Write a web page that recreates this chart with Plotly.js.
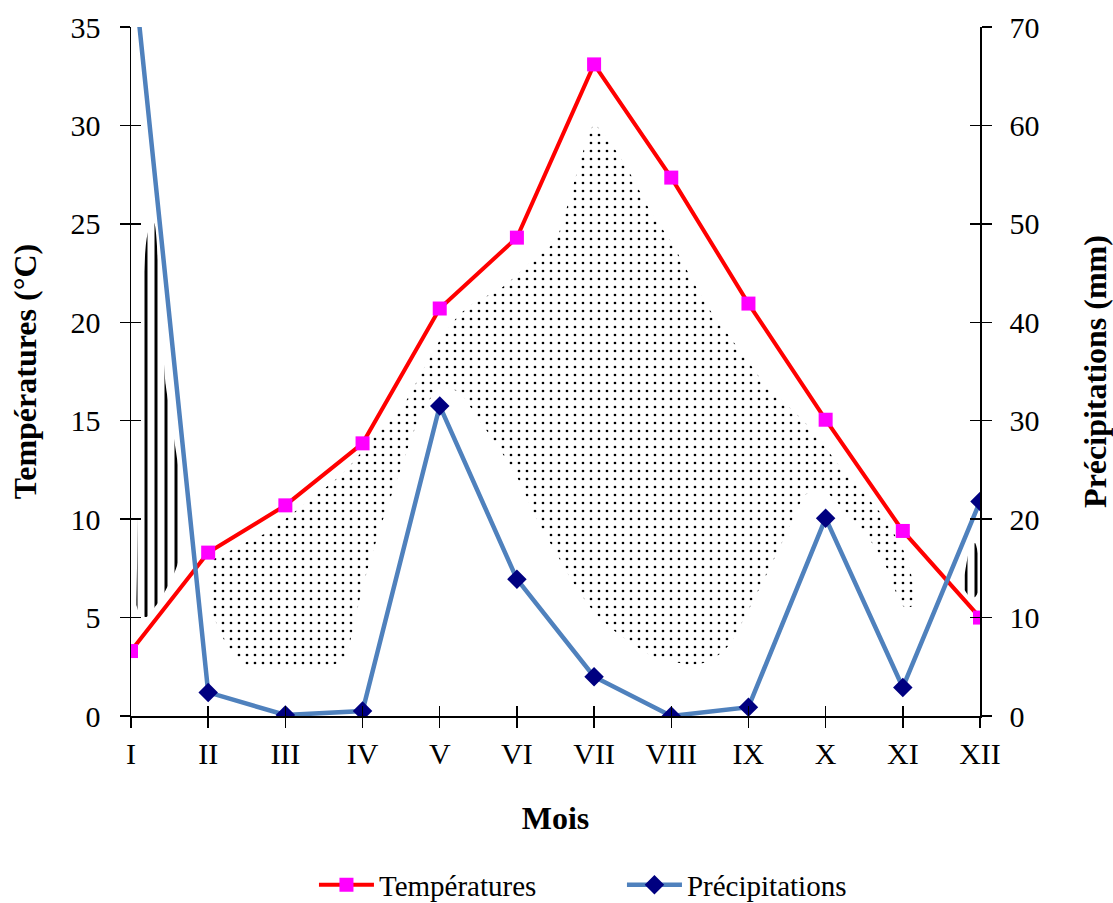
<!DOCTYPE html>
<html><head><meta charset="utf-8">
<script src="https://cdn.plot.ly/plotly-3.0.1.min.js"></script>
<style>html,body{margin:0;padding:0;background:#fff}#chart{width:1113px;height:903px}</style>
</head><body><div id="chart"></div>
<script>
// Month labels
const months = ['I','II','III','IV','V','VI','VII','VIII','IX','X','XI','XII'];
// Mean monthly temperature (°C)
const temperatures = [3.3, 8.3, 10.7, 13.85, 20.7, 24.3, 33.1, 27.35, 20.95, 15.05, 9.4, 5.0];
// Monthly precipitation (mm)
const precipitations = [78.4, 2.4, 0.1, 0.5, 31.5, 13.9, 4.0, 0.0, 0.9, 20.1, 2.9, 21.8];

// Dry-period shaded band (dotted), edges, in °C, by month position
const dryMonth  = [1.05,1.25,1.5,1.75,2.0,2.25,2.5,2.75,3.0,3.25,3.5,3.75,4.0,4.25,4.5,4.75,5.0,5.25,5.5,5.75,6.0,6.25,6.5,6.75,7.0,7.25,7.5,7.75,8.0,8.25,8.5,8.75,9.0,9.25,9.5,9.75,10.0,10.1,10.17];
const dryTop    = [7.92,8.33,8.84,9.30,10.01,10.77,11.53,12.34,13.46,14.63,15.59,17.32,19.07,20.37,21.13,21.59,22.40,23.32,24.13,27.23,30.02,28.90,27.33,25.50,24.08,22.30,20.62,19.30,17.98,16.66,15.80,14.83,13.61,12.34,11.28,10.11,8.48,7.31,5.89];
const dryBottom = [5.23,3.56,2.59,2.44,2.44,2.44,2.49,2.84,6.55,9.80,12.60,15.29,16.66,16.46,15.09,13.72,12.14,10.06,8.33,6.65,5.28,4.37,3.66,3.05,2.79,2.59,2.79,3.61,5.38,7.31,9.35,11.28,11.38,10.41,9.35,7.87,5.59,5.54,5.74];

// Wet-period hatched areas (vertical lines), edges, in °C
const wetJanMonth  = [0.07,0.1,0.15,0.2,0.25,0.3,0.35,0.4,0.45,0.5,0.55,0.6,0.65,0.66];
const wetJanTop    = [5.89,11.99,21.13,24.18,24.94,25.04,23.16,19.61,16.81,15.54,14.27,13.00,11.48,9.70];
const wetJanBottom = [5.64,5.28,5.08,5.03,5.18,5.49,5.74,6.04,6.40,6.76,7.16,7.67,8.43,9.45];
const wetDecMonth  = [10.8,10.87,10.935,10.99];
const wetDecTop    = [7.16,8.53,8.79,7.92];
const wetDecBottom = [6.40,6.04,6.04,6.40];

const tempTicks = [0,5,10,15,20,25,30,35];
const precTicks = [0,10,20,30,40,50,60,70];

const monthIndex = months.map((m, i) => i);
const FONT = 'Liberation Serif, Times New Roman, serif';

function band(x, lower, upper, pattern) {
  return [
    {x: x, y: lower, mode: 'lines', line: {width: 0, shape: 'spline', smoothing: 0.6},
     hoverinfo: 'skip', showlegend: false},
    {x: x, y: upper, mode: 'lines', line: {width: 0, shape: 'spline', smoothing: 0.6},
     fill: 'tonexty', fillcolor: 'rgba(0,0,0,0)', fillpattern: pattern,
     hoverinfo: 'skip', showlegend: false}
  ];
}
const dots = {shape: '.', size: 8, solidity: 0.09, fgcolor: '#000000', bgcolor: 'rgba(0,0,0,0)'};
const vlines = {shape: '|', size: 10, solidity: 0.3, fgcolor: '#000000', bgcolor: 'rgba(0,0,0,0)'};

const traces = [
  ...band(dryMonth, dryBottom, dryTop, dots),
  ...band(wetJanMonth, wetJanBottom, wetJanTop, vlines),
  ...band(wetDecMonth, wetDecBottom, wetDecTop, vlines),
  {x: monthIndex, y: temperatures, name: 'Températures', mode: 'lines+markers',
   line: {color: '#FF0000', width: 4}, marker: {symbol: 'square', size: 14, color: '#FF00FF'}},
  {x: monthIndex, y: precipitations, name: 'Précipitations', yaxis: 'y2', mode: 'lines+markers',
   line: {color: '#4F81BD', width: 4.5}, marker: {symbol: 'diamond', size: 15, color: '#000080'}},
  // carriers for the inner half of the crossing tick marks
  {x: monthIndex, y: temperatures, xaxis: 'x2', yaxis: 'y', mode: 'lines', line: {width: 0}, hoverinfo: 'skip', showlegend: false},
  {x: monthIndex, y: temperatures, xaxis: 'x', yaxis: 'y3', mode: 'lines', line: {width: 0}, hoverinfo: 'skip', showlegend: false},
  {x: monthIndex, y: precipitations, xaxis: 'x', yaxis: 'y4', mode: 'lines', line: {width: 0}, hoverinfo: 'skip', showlegend: false}
];

const tickFont = {family: FONT, size: 30, color: '#000'};
const titleFont = {family: FONT, size: 32, color: '#000'};
const common = {showgrid: false, zeroline: false, tickcolor: '#000', tickwidth: 1.5, ticklen: 10, fixedrange: true, automargin: false};

const layout = {
  width: 1113, height: 903,
  margin: {l: 131, r: 133, t: 27, b: 187},
  paper_bgcolor: '#fff', plot_bgcolor: '#fff',
  font: {family: FONT, color: '#000'},
  showlegend: true,
  legend: {orientation: 'h', traceorder: 'normal', x: 0.2155, xanchor: 'left',
           yref: 'container', y: 0.02, yanchor: 'middle',
           font: {family: FONT, size: 29, color: '#000'}, itemwidth: 55, entrywidth: 238},
  xaxis: Object.assign({}, common, {range: [0, 11], tickmode: 'array', tickvals: monthIndex, ticktext: months,
    ticks: 'outside', showline: true, linecolor: '#000', linewidth: 1.5, tickfont: tickFont,
    ticklabelstandoff: 0,
    title: {text: '<b>Mois</b>', font: titleFont, standoff: 38}}),
  xaxis2: Object.assign({}, common, {overlaying: 'x', anchor: 'y', side: 'bottom', range: [0, 11],
    tickmode: 'array', tickvals: monthIndex, ticks: 'inside', showticklabels: false, showline: false}),
  yaxis: Object.assign({}, common, {range: [0, 35], tickmode: 'array', tickvals: tempTicks,
    ticks: 'outside', showline: true, linecolor: '#000', linewidth: 1.5, tickfont: tickFont,
    ticklabelstandoff: 13,
    title: {text: '<b>Températures (°C)</b>', font: titleFont, standoff: 24}}),
  yaxis2: Object.assign({}, common, {overlaying: 'y', side: 'right', anchor: 'x', range: [0, 70],
    tickmode: 'array', tickvals: precTicks, ticks: 'outside', showline: true, linecolor: '#000', linewidth: 1.5,
    tickfont: tickFont, ticklabelstandoff: 12,
    title: {text: '<b>Précipitations (mm)</b>', font: titleFont, standoff: 46}}),
  yaxis3: Object.assign({}, common, {overlaying: 'y', side: 'left', anchor: 'x', range: [0, 35],
    tickmode: 'array', tickvals: tempTicks, ticks: 'inside', showticklabels: false, showline: false}),
  yaxis4: Object.assign({}, common, {overlaying: 'y', side: 'right', anchor: 'x', range: [0, 70],
    tickmode: 'array', tickvals: precTicks, ticks: 'inside', showticklabels: false, showline: false})
};

Plotly.newPlot('chart', traces, layout, {displayModeBar: false, staticPlot: true});
</script>
</body></html>
